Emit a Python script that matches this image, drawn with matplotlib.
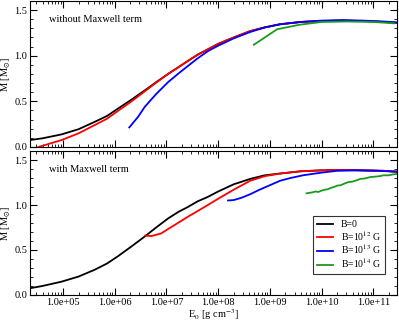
import numpy as np
import matplotlib.pyplot as plt
from matplotlib.ticker import FixedLocator, MultipleLocator, FuncFormatter, NullFormatter

plt.rcParams['font.family'] = ['Liberation Serif', 'DejaVu Serif']
plt.rcParams['mathtext.fontset'] = 'stix'

# top panel: without Maxwell term (log10 E0, M)
top_b0_logE = [4.36, 4.6, 4.97, 5.3, 5.61, 5.85, 6.06, 6.3, 6.58, 6.8, 7.03, 7.22, 7.42, 7.6, 7.8,
               8.0, 8.3, 8.62, 8.9, 9.2, 9.6, 10.0, 10.4, 10.8, 11.2, 11.46]
top_b0_M = [0.076, 0.095, 0.138, 0.195, 0.275, 0.34, 0.42, 0.51, 0.62, 0.71, 0.80, 0.87, 0.945, 1.01, 1.07,
            1.13, 1.20, 1.27, 1.31, 1.345, 1.37, 1.38, 1.385, 1.38, 1.37, 1.36]
top_b12_logE = [4.52, 4.7, 4.97, 5.3, 5.61, 5.85, 6.06, 6.3, 6.58, 6.8, 7.03, 7.22, 7.42, 7.6, 7.8,
                8.0, 8.3, 8.62, 8.9, 9.2, 9.6, 10.0, 10.4, 10.8, 11.2, 11.46]
top_b12_M = [0.0, 0.03, 0.076, 0.15, 0.24, 0.31, 0.395, 0.49, 0.61, 0.705, 0.80, 0.87, 0.945, 1.01, 1.07,
             1.13, 1.20, 1.27, 1.31, 1.345, 1.37, 1.38, 1.385, 1.38, 1.37, 1.36]
top_b13_logE = [6.28, 6.45, 6.58, 6.8, 7.03, 7.22, 7.42, 7.6, 7.8, 8.0, 8.3, 8.62, 8.9, 9.2, 9.6,
                10.0, 10.4, 10.8, 11.2, 11.46]
top_b13_M = [0.214, 0.33, 0.44, 0.58, 0.71, 0.80, 0.89, 0.97, 1.05, 1.11, 1.19, 1.26, 1.31, 1.345, 1.37,
             1.385, 1.39, 1.385, 1.375, 1.365]
top_b14_logE = [8.69, 9.14, 9.58, 10.0, 10.5, 11.0, 11.4]
top_b14_M = [1.12, 1.29, 1.34, 1.37, 1.375, 1.37, 1.355]

# bottom panel: with Maxwell term
bot_b0_logE = [4.36, 4.6, 4.97, 5.3, 5.61, 5.85, 6.06, 6.3, 6.58, 6.8, 7.03, 7.22, 7.42, 7.6, 7.8,
               8.0, 8.3, 8.62, 8.9, 9.2, 9.6, 10.0, 10.4, 10.8, 11.2, 11.46]
bot_b0_M = [0.075, 0.10, 0.148, 0.205, 0.28, 0.35, 0.43, 0.53, 0.65, 0.75, 0.85, 0.92, 0.98, 1.04, 1.09,
            1.15, 1.23, 1.29, 1.33, 1.35, 1.375, 1.385, 1.39, 1.385, 1.38, 1.37]
bot_b12_logE = [6.59, 6.71, 6.9, 7.05, 7.22, 7.4, 7.55, 7.8, 8.0, 8.3, 8.62, 8.9, 9.2, 9.6,
                10.0, 10.4, 10.8, 11.2, 11.46]
bot_b12_M = [0.66, 0.655, 0.685, 0.74, 0.80, 0.865, 0.915, 1.0, 1.07, 1.17, 1.27, 1.32, 1.35, 1.375,
             1.385, 1.39, 1.385, 1.38, 1.37]
bot_b13_logE = [8.19, 8.3, 8.45, 8.62, 8.8, 9.0, 9.2, 9.4, 9.64, 10.0, 10.3, 10.7, 11.1, 11.46]
bot_b13_M = [1.05, 1.055, 1.08, 1.12, 1.17, 1.22, 1.27, 1.30, 1.33, 1.36, 1.38, 1.385, 1.38, 1.37]
bot_b14_logE = [9.71, 9.76, 9.82, 9.88, 9.94, 10.0, 10.06, 10.12, 10.18, 10.24, 10.3, 10.37, 10.45,
                10.52, 10.6, 10.68, 10.75, 10.84, 10.94, 11.03, 11.12, 11.2, 11.3, 11.38, 11.46]
bot_b14_M = [1.13, 1.135, 1.14, 1.15, 1.145, 1.16, 1.17, 1.175, 1.19, 1.20, 1.215, 1.22, 1.24,
             1.255, 1.26, 1.275, 1.29, 1.295, 1.31, 1.315, 1.32, 1.33, 1.33, 1.34, 1.345]

labels = ['B=0', 'B=10$^{12}$ G', 'B=10$^{13}$ G', 'B=10$^{14}$ G']
colors = ['black', 'red', 'blue', '#1a9a1a']

xmin, xmax = 10 ** 4.36, 10 ** 11.46
major_x = [10.0 ** k for k in range(5, 12)]
minor_x = [m * 10.0 ** k for k in range(4, 12) for m in range(2, 10) if xmin <= m * 10.0 ** k <= xmax]

fig = plt.figure(figsize=(3.99, 3.22), dpi=100)
ax1 = fig.add_axes([0.0752, 0.5435, 0.9198, 0.4535])
ax2 = fig.add_axes([0.0752, 0.0839, 0.9198, 0.4471])

top = [(top_b0_logE, top_b0_M), (top_b12_logE, top_b12_M), (top_b13_logE, top_b13_M), (top_b14_logE, top_b14_M)]
bot = [(bot_b0_logE, bot_b0_M), (bot_b12_logE, bot_b12_M), (bot_b13_logE, bot_b13_M), (bot_b14_logE, bot_b14_M)]

for (x, y), c, lab in zip(top, colors, labels):
    ax1.plot(10 ** np.array(x), y, color=c, lw=1.3, label=lab)
for (x, y), c, lab in zip(bot, colors, labels):
    ax2.plot(10 ** np.array(x), y, color=c, lw=1.3, label=lab)

fmt = FuncFormatter(lambda v, p: '%.1e' % v)
for ax in (ax1, ax2):
    ax.set_xscale('log')
    ax.set_xlim(xmin, xmax)
    ax.set_ylim(0, 1.6)
    ax.xaxis.set_major_locator(FixedLocator(major_x))
    ax.xaxis.set_minor_locator(FixedLocator(minor_x))
    ax.xaxis.set_minor_formatter(NullFormatter())
    ax.yaxis.set_major_locator(MultipleLocator(0.5))
    ax.yaxis.set_minor_locator(MultipleLocator(0.1))
    ax.tick_params(which='both', direction='in', top=True, right=True, labelsize=7.5, pad=2)
    ax.tick_params(which='major', length=5)
    ax.tick_params(which='minor', length=2.5)
    ax.set_ylabel(r'M [M$_{\odot}$]', fontsize=7.5, labelpad=1)

ax1.xaxis.set_major_formatter(NullFormatter())
ax2.xaxis.set_major_formatter(fmt)
ax2.set_xlabel(r'E$_0$ [g cm$^{-3}$]', fontsize=7.5, labelpad=0)

ax1.text(0.052, 0.855, 'without Maxwell term', transform=ax1.transAxes, fontsize=7.5)
ax2.text(0.052, 0.855, 'with Maxwell term', transform=ax2.transAxes, fontsize=7.5)

leg = ax2.legend(loc='lower right', bbox_to_anchor=(0.967, 0.146), fontsize=7, fancybox=False,
                 edgecolor='black', handlelength=1.6, handletextpad=0.8, borderpad=0.4,
                 labelspacing=0.0, borderaxespad=0)
leg.get_frame().set_linewidth(0.8)

fig.savefig('out.png', dpi=100)
